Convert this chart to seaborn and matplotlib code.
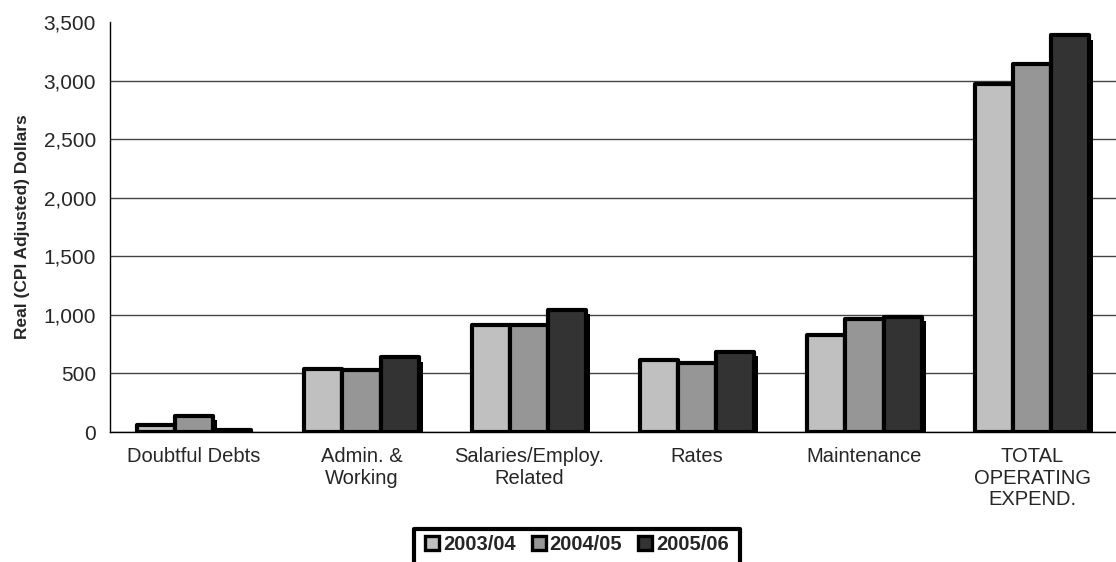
import matplotlib
matplotlib.use("Agg")
import matplotlib.pyplot as plt
import matplotlib.patheffects as pe
from matplotlib.patches import Patch, Rectangle
from matplotlib.ticker import FuncFormatter, FixedLocator
import seaborn as sns
import pandas as pd

categories = ["Doubtful Debts", "Admin. &\nWorking", "Salaries/Employ.\nRelated",
              "Rates", "Maintenance", "TOTAL\nOPERATING\nEXPEND."]
years = ["2003/04", "2004/05", "2005/06"]
v_2003 = [58, 540, 912, 615, 828, 2970]
v_2004 = [140, 532, 910, 585, 963, 3143]
v_2005 = [16, 637, 1045, 686, 985, 3385]
colors = ["#C0C0C0", "#969696", "#333333"]

rows = []
for yr, vals in zip(years, [v_2003, v_2004, v_2005]):
    for c, v in zip(categories, vals):
        rows.append({"Category": c, "Year": yr, "Value": v})
df = pd.DataFrame(rows)

sns.set_style("white")
plt.rcParams["font.family"] = ["Liberation Sans", "DejaVu Sans"]

W, H = 1116, 562
fig = plt.figure(figsize=(W / 100, H / 100), dpi=100)
ax = fig.add_axes([110 / W, 1 - 432 / H, 1 - 110 / W, (432 - 22) / H])

sns.barplot(data=df, x="Category", y="Value", hue="Year", order=categories,
            hue_order=years, palette=colors, width=0.68, edgecolor="black",
            linewidth=3.0, legend=False, ax=ax, zorder=3)

shadow = [pe.SimplePatchShadow(offset=(3, -3), shadow_rgbFace="black", alpha=1.0),
          pe.Normal()]
for p in ax.patches:
    p.set_path_effects(shadow)
    p.set_joinstyle("round")

ax.set_ylim(0, 3500)
ax.set_xlim(-0.5, len(categories) - 0.5)
ax.yaxis.set_major_locator(FixedLocator(range(0, 3501, 500)))
ax.yaxis.set_major_formatter(FuncFormatter(lambda v, _: f"{int(v):,}"))
ax.yaxis.grid(True, color="#444444", linewidth=1.0, zorder=0)
ax.xaxis.grid(False)
ax.set_axisbelow(True)
fig.canvas.draw()
ax.get_ygridlines()[-1].set_visible(False)

for s in ["top", "right"]:
    ax.spines[s].set_visible(False)
for s in ["left", "bottom"]:
    ax.spines[s].set_color("black")
    ax.spines[s].set_linewidth(1.0)

# category boundaries carry the outer tick marks
ax.set_xticks([i + 0.5 for i in range(-1, len(categories))], minor=False)
ax.set_xticklabels([])
ax.set_xticks(range(len(categories)), minor=True)
ax.set_xticklabels(categories, minor=True, fontsize=14.5, linespacing=1.15)
ax.tick_params(axis="x", which="major", direction="out", length=6, width=1, color="black")
ax.tick_params(axis="x", which="minor", direction="in", length=3, width=1, color="#333333",
               pad=11)
ax.tick_params(axis="y", direction="out", length=5, width=1, color="black",
               labelsize=15, pad=5)

ax.set_xlabel("")
ax.set_ylabel("Real (CPI Adjusted) Dollars", fontsize=12.5, fontweight="bold", labelpad=10)

handles = [Patch(facecolor=c, edgecolor="black", linewidth=2.4) for c in colors]
leg = fig.legend(handles, years, loc="upper center", bbox_to_anchor=(0.517, 1 - 531 / H),
                 ncol=3, frameon=False, handlelength=0.7,
                 handleheight=0.7, handletextpad=0.2, columnspacing=0.8,
                 borderpad=0.2, borderaxespad=0.0, prop={"weight": "bold", "size": 14.5})

# legend box, running off the lower edge of the figure
fig.patches.append(Rectangle((414 / W, -0.05), (740 - 414) / W, 0.05 + (562 - 529) / H,
                             transform=fig.transFigure, fill=False, edgecolor="black",
                             linewidth=3.0, joinstyle="round"))

fig.savefig("out.png", dpi=100)
